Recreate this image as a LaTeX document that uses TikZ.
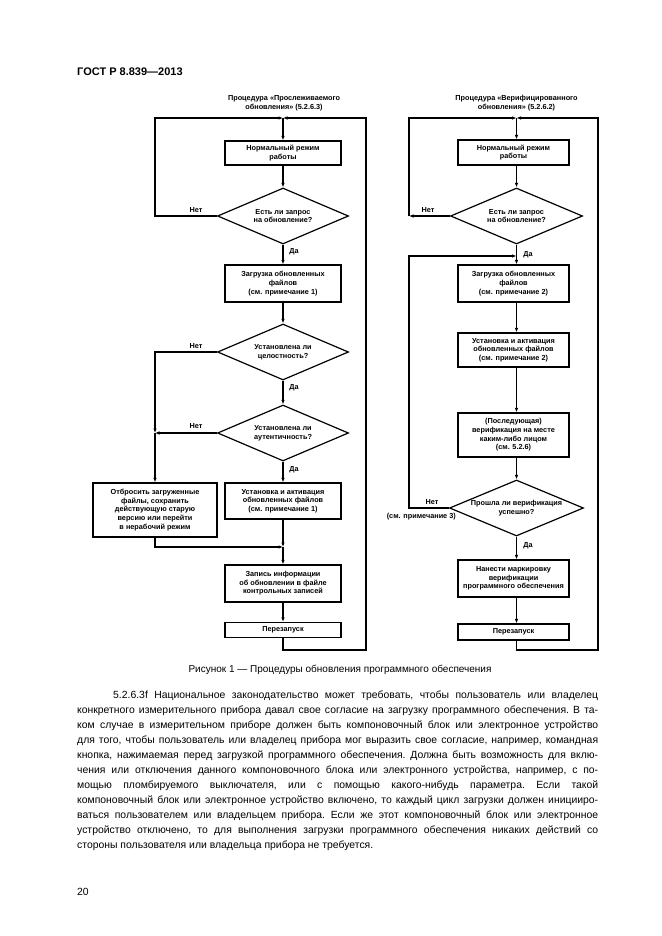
\documentclass[tikz,border=0pt]{standalone}
\usepackage{fontspec}
\setmainfont{Liberation Sans}
\usetikzlibrary{shapes.geometric,arrows.meta}
\newcommand{\bxfont}{\fontsize{7.3}{8.6}\selectfont\bfseries}
\begin{document}
\begin{tikzpicture}[x=1pt,y=-1pt,
  box/.style={draw, line width=1.2pt, inner sep=1pt, align=center, font=\bxfont, minimum width=116pt},
  rbox/.style={box, minimum width=111pt},
  dia/.style={draw, diamond, line width=1.2pt, inner sep=0pt, aspect=2.35, align=center, font=\bxfont, minimum width=131pt, minimum height=56pt},
  arr/.style={line width=1.2pt, -{Latex[length=4.5pt,width=3.5pt]}},
  lbl/.style={font=\bxfont, inner sep=1pt}
]
\fill[white] (0,0) rectangle (661,936);
\useasboundingbox (0,0) rectangle (661,936);

% header
\node[anchor=west, inner sep=0pt, font=\fontsize{11}{13}\selectfont\bfseries] (hdr) at (77,72) {ГОСТ Р 8.839—2013};

% ---------- left column ----------
\node[lbl, align=center] (ltitle) at (284,103) {Процедура «Прослеживаемого\\обновления» (5.2.6.3)};
\node[box, minimum height=24pt] (ln1) at (283,153) {Нормальный режим\\работы};
\node[dia] (ld1) at (283,216) {Есть ли запрос\\на обновление?};
\node[box, minimum height=37pt] (lb2) at (283,283.5) {Загрузка обновленных\\файлов\\(см. примечание 1)};
\node[dia] (ld2) at (283,352) {Установлена ли\\целостность?};
\node[dia] (ld3) at (283,433) {Установлена ли\\аутентичность?};
\node[box, minimum height=36pt] (lb3) at (283,501) {Установка и активация\\обновленных файлов\\(см. примечание 1)};
\node[box, minimum width=124pt, minimum height=54pt] (lbx) at (155,510) {Отбросить загруженные\\файлы, сохранить\\действующую старую\\версию или перейти\\в нерабочий режим};
\node[box, minimum height=37pt] (lb4) at (283,583.5) {Запись информации\\об обновлении в файле\\контрольных записей};
\node[box, minimum height=15pt] (lb5) at (283,630) {Перезапуск};

\coordinate (LT) at (283,118);
\coordinate (LLtop) at (155,118);
\coordinate (LRbot) at (366,650);
\coordinate (LJ) at (155,433);
\coordinate (LM) at (283,547);

\draw[arr] (LT) -- (ln1.north);
\draw[arr] (ln1.south) -- (ld1.north);
\draw[arr] (ld1.south) -- (lb2.north);
\draw[arr] (ld1.west) -| (LLtop) -- (LT);
\draw[arr] (lb2.south) -- (ld2.north);
\draw[arr] (ld2.south) -- (ld3.north);
\draw[arr] (ld3.south) -- (lb3.north);
\draw[arr] (ld2.west) -| (LJ);
\draw[arr] (ld3.west) -- (LJ);
\draw[arr] (LJ) -- (lbx.north);
\draw[arr] (lbx.south) |- (LM);
\draw[arr] (lb3.south) -- (LM);
\draw[arr] (LM) -- (lb4.north);
\draw[arr] (lb4.south) -- (lb5.north);
\draw[arr] (lb5.south) |- (LRbot) |- (LT);
\node[lbl] (ln1t) at (196,210) {Нет};
\node[lbl] (ln2t) at (196,346) {Нет};
\node[lbl] (ln3t) at (196,426) {Нет};
\node[lbl] (lda1) at (294,252) {Да};
\node[lbl] (lda2) at (294,388) {Да};
\node[lbl] (lda3) at (294,470) {Да};

% ---------- right column ----------
\node[lbl, align=center] (rtitle) at (516.5,103) {Процедура «Верифицированного\\обновления» (5.2.6.2)};
\node[rbox, minimum height=25pt] (rn1) at (513.5,152.5) {Нормальный режим\\работы};
\node[dia, minimum width=132pt] (rd1) at (516.5,216) {Есть ли запрос\\на обновление?};
\node[rbox, minimum height=37pt] (rb2) at (513.5,283.5) {Загрузка обновленных\\файлов\\(см. примечание 2)};
\node[rbox, minimum height=34pt] (rb3) at (513.5,350) {Установка и активация\\обновленных файлов\\(см. примечание 2)};
\node[rbox, minimum height=44pt] (rb4) at (513.5,435) {(Последующая)\\верификация на месте\\каким-либо лицом\\(см. 5.2.6)};
\node[dia, minimum width=134pt] (rd2) at (516.5,508) {Прошла ли верификация\\успешно?};
\node[rbox, minimum height=37pt] (rb5) at (513.5,578.5) {Нанести маркировку\\верификации\\программного обеспечения};
\node[rbox, minimum height=16pt] (rb6) at (513.5,632) {Перезапуск};

\coordinate (RT) at (516.5,118);
\coordinate (RL) at (409,216);
\coordinate (RJL) at (409,256);
\coordinate (RJ) at (516.5,256);
\coordinate (RB) at (598,650);

\draw[arr] (RT) -- (RT |- rn1.north);
\draw[arr] (rn1.south -| RT) -- (rd1.north);
\draw[arr] (rd1.west) -- (RL);
\draw[arr] (RL) |- (RT);
\draw[arr] (rd1.south) -- (rb2.north -| RT);
\node[lbl] (rda1) at (528,255) {Да};
\draw[arr] (rb2.south -| RT) -- (rb3.north -| RT);
\draw[arr] (rb3.south -| RT) -- (rb4.north -| RT);
\draw[arr] (rb4.south -| RT) -- (rd2.north);
\draw[arr] (rd2.south) -- (rb5.north -| RT);
\node[lbl] (rda2) at (528,546) {Да};
\draw[arr] (rb5.south -| RT) -- (rb6.north -| RT);
\draw[arr] (rb6.south -| RT) |- (RB) |- (RT);
\draw[arr] (rd2.west) -| (RJL) -- (RJ);
\node[lbl] (rn1t) at (428,210) {Нет};
\node[lbl] (rn2t) at (432,502) {Нет};
\node[lbl, anchor=east] (rn2n) at (457,517) {(см. примечание 3)};

% caption
\node[font=\fontsize{10}{12}\selectfont, inner sep=0pt] (cap) at (340,670) {Рисунок 1 — Процедуры обновления программного обеспечения};

% body text
\node[anchor=base west, inner sep=0pt, font=\fontsize{10.4}{15}\selectfont] (body) at (77,698) {\parbox[t]{521pt}{\frenchspacing\hyphenpenalty=10000\exhyphenpenalty=10000\tolerance=10000\hbadness=10000\hfuzz=20pt
\hspace*{36pt}5.2.6.3f Национальное законодательство может требовать, чтобы пользователь или владелец\linebreak
конкретного измерительного прибора давал свое согласие на загрузку программного обеспечения. В та-\linebreak
ком случае в измерительном приборе должен быть компоновочный блок или электронное устройство\linebreak
для того, чтобы пользователь или владелец прибора мог выразить свое согласие, например, командная\linebreak
кнопка, нажимаемая перед загрузкой программного обеспечения. Должна быть возможность для вклю-\linebreak
чения или отключения данного компоновочного блока или электронного устройства, например, с по-\linebreak
мощью пломбируемого выключателя, или с помощью какого-нибудь параметра. Если такой\linebreak
компоновочный блок или электронное устройство включено, то каждый цикл загрузки должен иницииро-\linebreak
ваться пользователем или владельцем прибора. Если же этот компоновочный блок или электронное\linebreak
устройство отключено, то для выполнения загрузки программного обеспечения никаких действий со\linebreak
стороны пользователя или владельца прибора не требуется.}};

\node[anchor=west, inner sep=0pt, font=\fontsize{10.4}{12}\selectfont] (pg) at (77,892) {20};
\end{tikzpicture}
\end{document}
